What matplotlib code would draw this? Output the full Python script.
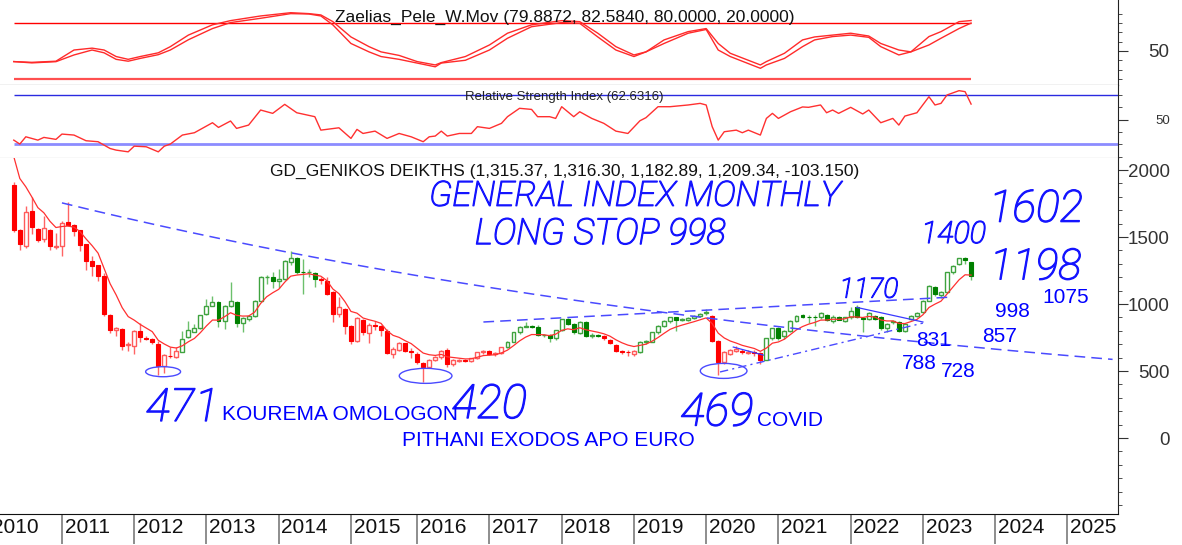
import numpy as np
import pandas as pd
import matplotlib
matplotlib.use('Agg')
import matplotlib.pyplot as plt
import matplotlib.patheffects as pe
from matplotlib.patches import Rectangle, Ellipse
from matplotlib.transforms import blended_transform_factory

# monthly bars, May 2010 - Sep 2023 (no bar for July 2015, market closed)
months = pd.period_range('2010-05', '2023-09', freq='M')
months = months[months != pd.Period('2015-07', freq='M')]

opens = [1888, 1555, 1430, 1696, 1560, 1485, 1555, 1425,
         1430, 1610, 1590, 1550, 1445, 1320, 1290, 1211, 918, 808, 813, 695,
         689, 801, 750, 739, 701, 535, 612, 602, 644, 751, 793, 818,
         925, 987, 1012, 876, 982, 1017, 858, 888, 908, 1025, 1199, 1204,
         1174, 1187, 1315, 1343, 1241, 1236, 1229, 1187, 1174, 1092, 925, 963,
         833, 726, 883, 783, 843, 833, 801, 627, 659, 706, 652,
         627, 557, 527, 584, 602, 657, 552, 577, 580, 577, 594, 639,
         652, 627, 632, 676, 719, 788, 831, 838, 831, 768, 768, 743,
         808, 888, 850, 783, 868, 765, 770, 763, 733, 694, 648, 644,
         627, 639, 714, 719, 788, 833, 875, 900, 883, 880, 893, 908,
         930, 913, 726, 569, 630, 650, 650, 636, 640, 634, 584, 744,
         818, 758, 801, 876, 918, 905, 903, 900, 918, 871, 900, 876,
         900, 975, 895, 888, 913, 900, 818, 863, 863, 801, 890, 908,
         943, 1025, 1129, 1067, 1087, 1236, 1298, 1340, 1315.37]
highs = [1913, 1560, 1734, 1796, 1565, 1654, 1560, 1530,
         1617, 1759, 1595, 1555, 1450, 1360, 1295, 1231, 925, 826, 820, 714,
         805, 856, 760, 745, 726, 625, 676, 680, 801, 875, 850, 920,
         1037, 1057, 1020, 990, 1167, 1025, 900, 920, 1030, 1210, 1215, 1236,
         1260, 1330, 1393, 1350, 1336, 1260, 1240, 1205, 1205, 1100, 1050, 970,
         840, 900, 890, 860, 870, 845, 815, 680, 715, 710, 670,
         640, 565, 590, 610, 655, 670, 590, 590, 592, 600, 645, 660,
         660, 645, 680, 725, 795, 835, 863, 845, 840, 780, 775, 810,
         890, 895, 860, 875, 875, 785, 780, 770, 740, 700, 660, 655,
         660, 725, 735, 795, 840, 880, 905, 905, 895, 900, 915, 930,
         962, 920, 730, 650, 665, 690, 665, 660, 655, 640, 750, 820,
         825, 805, 880, 920, 925, 915, 915, 940, 925, 915, 910, 905,
         975, 990, 905, 940, 920, 910, 860, 880, 870, 860, 920, 940,
         1030, 1140, 1135, 1095, 1240, 1290, 1345, 1352, 1316.30]
lows = [1535, 1405, 1415, 1522, 1460, 1465, 1405, 1410,
        1361, 1585, 1510, 1398, 1254, 1211, 1174, 913, 783, 764, 657, 652,
        627, 719, 730, 702, 471, 485, 600, 595, 640, 745, 790, 815,
        920, 982, 826, 813, 975, 826, 793, 870, 900, 1020, 1150, 1117,
        1120, 1180, 1290, 1225, 1075, 1200, 1125, 1150, 1070, 863, 900, 776,
        700, 720, 770, 710, 805, 760, 630, 600, 650, 645, 600,
        555, 420, 520, 575, 590, 527, 540, 565, 566, 570, 590, 630,
        620, 615, 628, 670, 715, 780, 825, 820, 760, 755, 713, 735,
        800, 840, 780, 775, 755, 750, 755, 730, 700, 640, 630, 615,
        615, 635, 700, 715, 780, 825, 860, 800, 870, 870, 885, 900,
        915, 720, 469, 555, 620, 640, 630, 625, 615, 555, 580, 735,
        730, 740, 790, 865, 895, 860, 833, 890, 875, 860, 880, 865,
        890, 895, 793, 880, 880, 810, 795, 850, 795, 790, 880, 900,
        935, 1020, 1060, 1045, 1080, 1225, 1290, 1300, 1182.89]
closes = [1555, 1448, 1689, 1572, 1480, 1565, 1430, 1430,
          1602, 1592, 1547, 1443, 1323, 1286, 1211, 925, 808, 818, 689, 705,
          801, 751, 739, 714, 535, 619, 609, 652, 739, 808, 818, 918,
          987, 1012, 876, 982, 1025, 858, 893, 913, 1025, 1199, 1204, 1174,
          1187, 1323, 1343, 1241, 1236, 1240, 1187, 1183, 1075, 925, 975, 838,
          726, 893, 788, 843, 838, 808, 634, 664, 706, 652, 640,
          565, 527, 584, 602, 647, 552, 584, 580, 575, 594, 639, 652,
          627, 632, 676, 719, 788, 831, 838, 831, 768, 770, 743, 808,
          888, 850, 788, 868, 763, 770, 763, 743, 709, 651, 644, 641,
          651, 719, 726, 788, 833, 875, 900, 883, 885, 893, 908, 925,
          938, 726, 569, 639, 656, 663, 640, 644, 634, 584, 744, 818,
          744, 801, 876, 913, 905, 903, 900, 933, 883, 905, 883, 900,
          950, 900, 888, 933, 888, 818, 850, 875, 801, 850, 913, 933,
          1025, 1137, 1075, 1087, 1236, 1286, 1340, 1331, 1209.34]

# bar ranges (by bar number) painted green, the rest are red
uptrend_spans = [(28, 50), (82, 97), (104, 115), (125, 159)]

# red moving average
ma_start = 2100
ma_alpha = 0.25

# Zaelias_Pele_W.Mov, read every few bars
osc_idx = [0, 3, 7, 10, 13, 15, 17, 19, 21, 24, 26, 29, 33, 36, 41, 46, 49, 51, 53,
           56, 59, 61, 64, 67, 70, 71, 75, 79, 82, 86, 91, 94, 97, 100, 103, 105,
           108, 112, 115, 117, 119, 124, 125, 128, 131, 133, 136, 139, 142, 144,
           147, 149, 152, 154, 157, 159]
osc_fast = [38.6, 37.8, 39.0, 51.0, 53.0, 51.0, 44.0, 41.0, 44.0, 48.0, 54.6, 67.0,
            78.0, 82.5, 87.5, 91.0, 90.0, 88.6, 81.4, 65.0, 54.6, 49.0, 45.2, 38.6,
            35.0, 37.5, 44.0, 56.4, 69.0, 78.0, 82.5, 81.4, 69.0, 54.6, 45.7, 49.0,
            61.8, 70.7, 74.0, 58.0, 47.5, 35.0, 38.6, 47.5, 61.8, 65.0, 67.0, 69.0,
            66.0, 58.0, 51.0, 49.0, 65.4, 70.7, 81.4, 82.584]
osc_slow = [38.6, 37.2, 38.5, 45.7, 51.0, 48.0, 41.0, 39.0, 42.0, 46.0, 51.0, 62.0,
            74.0, 80.4, 85.0, 90.0, 89.6, 87.5, 77.9, 58.0, 49.0, 44.0, 41.0, 37.0,
            33.0, 37.0, 40.0, 51.0, 63.6, 76.0, 80.4, 79.6, 65.0, 51.0, 44.0, 49.0,
            58.0, 69.0, 73.0, 51.0, 44.0, 31.4, 35.0, 42.0, 54.6, 61.8, 65.4, 67.0,
            64.6, 54.6, 45.7, 49.0, 56.4, 63.6, 74.0, 79.887]

# Relative Strength Index, read every few bars
rsi_idx = [0, 1, 2, 4, 5, 7, 8, 10, 12, 14, 16, 17, 19, 20, 22, 24, 25, 26, 28, 30,
           33, 34, 36, 37, 39, 41, 43, 45, 47, 50, 51, 54, 56, 57, 58, 60, 62, 64,
           66, 68, 69, 70, 71, 72, 74, 76, 77, 79, 81, 82, 84, 86, 87, 89, 90, 91,
           93, 94, 96, 98, 100, 102, 104, 105, 107, 109, 112, 114, 115, 116, 117,
           118, 120, 121, 122, 124, 125, 126, 127, 129, 131, 132, 134, 135, 136,
           137, 139, 141, 142, 144, 146, 147, 148, 150, 152, 153, 154, 155, 157,
           158, 159]
rsi_vals = [33.4, 30.2, 36.1, 33.4, 35.6, 34.0, 38.3, 37.5, 32.9, 32.1, 26.6, 25.3,
            23.9, 28.5, 28.0, 23.9, 28.5, 30.2, 37.5, 39.4, 47.5, 43.7, 48.9, 42.9,
            45.6, 57.8, 55.1, 62.4, 55.6, 52.4, 41.5, 43.4, 34.8, 42.1, 38.8, 40.7,
            34.8, 38.8, 36.1, 32.1, 36.1, 36.7, 40.7, 36.7, 38.8, 38.8, 44.3, 42.9,
            47.0, 52.4, 59.2, 58.3, 52.4, 52.4, 51.0, 60.5, 52.4, 56.4, 51.0, 47.0,
            40.7, 38.8, 49.1, 51.6, 60.5, 60.5, 61.9, 63.2, 61.9, 44.3, 33.4, 40.2,
            41.5, 39.4, 41.5, 37.5, 51.0, 55.1, 51.0, 56.4, 60.3, 60.0, 61.9, 55.6,
            57.8, 55.1, 60.0, 54.6, 57.8, 47.5, 51.0, 45.6, 52.9, 55.6, 68.6, 61.9,
            63.2, 70.0, 73.5, 72.7, 62.6316]

# hand drawn lines: (bar, value) end points
downtrend = ((8, 1755), (182.5, 587))          # drawn on log scale
channel_top = ((78, 866), (155.8, 1052))
wedge_top = ((140, 975), (151, 866))
base_2020 = ((119.5, 679), (124.5, 619))
covid_support = ((117.3, 493), (151, 858))
# circled lows: (bar, value, width in bars, height)
lows_circled = [(24.8, 495, 5.8, 75), (68.4, 464, 8.75, 112), (117.9, 501, 7.75, 112)]

W, H = 1182, 545
XL = (-2.29, 183.4)
ARIAL = 'Liberation Sans'
HAND_COLOR = '#1414ff'
HAND = dict(family='Roboto', style='italic', weight='light', color=HAND_COLOR,
            path_effects=[pe.withStroke(linewidth=0.9, foreground=HAND_COLOR)])
BLUE = '#0000ff'


def year_slot(year):
    p = pd.Period(f'{year}-01', freq='M')
    if p < months[0]:
        return -(months[0] - p).n
    if p > months[-1]:
        return len(months) - 1 + (p - months[-1]).n
    return months.get_loc(p)


def style_axis(ax, bottom_color):
    for s in ['left', 'top']:
        ax.spines[s].set_visible(False)
    ax.spines['right'].set_color('#222222')
    ax.spines['bottom'].set_color(bottom_color)
    ax.yaxis.tick_right()
    ax.tick_params(axis='y', which='major', length=7.2, pad=30, colors='#333333',
                   labelsize=13.5)
    ax.tick_params(axis='y', which='minor', length=2.8, colors='#333333')
    ax.tick_params(axis='x', which='both', bottom=False, labelbottom=False)


fig = plt.figure(figsize=(W / 100, H / 100), dpi=100)
ax_top = fig.add_axes([0, 1 - 85 / H, 1118 / W, 85 / H])
ax_rsi = fig.add_axes([0, 1 - 158 / H, 1118 / W, 73 / H])
ax = fig.add_axes([0, 31 / H, 1118 / W, 356 / H])

# ---- oscillator panel
style_axis(ax_top, '#111111')
ax_top.set_ylim(13.5, 104.6)
ax_top.set_yticks([50])
ax_top.set_yticks([20, 30, 40, 60, 70, 80, 90], minor=True)
ax_top.hlines(80, 0, len(closes) - 1, color='#ff0000', lw=1)
ax_top.hlines(20, 0, len(closes) - 1, color='#ff5050', lw=1.6)
ax_top.plot(osc_idx, osc_fast, color='#ff2a2a', lw=1)
ax_top.plot(osc_idx, osc_slow, color='#ff2a2a', lw=1)
ax_top.text(0.505, 0.79, 'Zaelias_Pele_W.Mov (79.8872, 82.5840, 80.0000, 20.0000)',
            transform=ax_top.transAxes, ha='center', va='center', fontsize=12.5,
            family=ARIAL, color='#111111')
ax_top.set_xlim(*XL)

# ---- RSI panel
style_axis(ax_rsi, '#8a8a8a')
ax_rsi.set_ylim(18.9, 78.1)
ax_rsi.set_yticks([50])
ax_rsi.set_yticks([20, 30, 40, 60, 70], minor=True)
ax_rsi.tick_params(axis='y', which='major', labelsize=9.5)
ax_rsi.hlines(70, 0, XL[1], color='#2a2ae0', lw=1)
ax_rsi.hlines(30, 0, XL[1], color='#8c8cff', lw=2)
ax_rsi.plot(rsi_idx, rsi_vals, color='#ff3030', lw=1)
ax_rsi.text(0.505, 0.84, 'Relative Strength Index (62.6316)', transform=ax_rsi.transAxes,
            ha='center', va='center', fontsize=9.5, family=ARIAL, color='#222222')
ax_rsi.set_xlim(*XL)

# ---- price panel
style_axis(ax, '#111111')
ax.set_ylim(-567, 2090)
ax.set_yticks([0, 500, 1000, 1500, 2000])
ax.set_yticks(range(-500, 2100, 100), minor=True)

for i in range(len(closes)):
    o, h, l, c = opens[i], highs[i], lows[i], closes[i]
    up = any(a <= i <= b for a, b in uptrend_spans)
    if up:
        solid, edge, wick = '#008000', '#3fa33f', '#6cc06c'
    else:
        solid, edge, wick = '#ff0000', '#ff5a5a', '#ff6464'
    ax.vlines(i, l, h, color=wick, lw=1, zorder=2)
    lo, hi = min(o, c), max(o, c)
    if c < o:
        ax.add_patch(Rectangle((i - 0.33, lo), 0.66, max(hi - lo, 3), facecolor=solid,
                               edgecolor=solid, lw=0.8, zorder=3))
    else:
        ax.add_patch(Rectangle((i - 0.33, lo), 0.66, max(hi - lo, 3), facecolor='white',
                               edgecolor=edge, lw=1, zorder=3))

ma = [ma_start]
for c in closes[1:]:
    ma.append(ma[-1] + ma_alpha * (c - ma[-1]))
ax.plot(range(len(closes)), ma, color='#ff3030', lw=0.9, zorder=4)

# trend lines
(x0, v0), (x1, v1) = downtrend
xs = np.linspace(x0, x1, 200)
ax.plot(xs, v0 * (v1 / v0) ** ((xs - x0) / (x1 - x0)), color='#4a4aff', lw=1.1,
        dashes=(7, 4), zorder=5)
(a, va), (b, vb) = channel_top
ax.plot([a, b], [va, vb], color='#4a4aff', lw=1.1, dashes=(7, 4), zorder=5)
for (a, va), (b, vb) in [wedge_top, base_2020]:
    ax.plot([a, b], [va, vb], color='#3a3aff', lw=0.9, zorder=5)
(a, va), (b, vb) = covid_support
ax.plot([a, b], [va, vb], color='#4a4aff', lw=1, dashes=(6, 3, 1.5, 3), zorder=5)
for cx, cy, w, h in lows_circled:
    ax.add_patch(Ellipse((cx, cy), w, h, fill=False, edgecolor='#4a4aff', lw=1, zorder=5))

ax.text(0.505, 0.961, 'GD_GENIKOS DEIKTHS (1,315.37, 1,316.30, 1,182.89, 1,209.34, -103.150)',
        transform=ax.transAxes, ha='center', va='center', fontsize=12.5, family=ARIAL,
        color='#111111')

# hand written notes
ax.text(103.2, 1806, 'GENERAL INDEX MONTHLY', fontsize=25, ha='center', va='center', **HAND)
ax.text(97.4, 1522, 'LONG STOP 998', fontsize=26, ha='center', va='center', **HAND)
ax.text(169.8, 1706, '1602', fontsize=32, ha='center', va='center', **HAND)
ax.text(156.1, 1519, '1400', fontsize=22, ha='center', va='center', **HAND)
ax.text(169.7, 1270, '1198', fontsize=31, ha='center', va='center', **HAND)
ax.text(142.0, 1104, '1170', fontsize=20, ha='center', va='center', **HAND)
ax.text(28.0, 224, '471', fontsize=33, ha='center', va='center', **HAND)
ax.text(79.0, 246, '420', fontsize=34, ha='center', va='center', **HAND)
ax.text(116.8, 190, '469', fontsize=33, ha='center', va='center', **HAND)

notes = [(34.6, 172, 'KOUREMA OMOLOGON'), (64.5, -15, 'PITHANI EXODOS APO EURO'),
         (123.4, 134, 'COVID'), (170.8, 1048, '1075'), (163.0, 944, '998'),
         (160.8, 757, '857'), (149.9, 731, '831'), (147.5, 556, '788'), (153.9, 500, '728')]
for x, y, s in notes:
    ax.text(x, y, s, fontsize=15, family=ARIAL, color=BLUE, ha='left', va='center', zorder=6)

# year dividers under the price panel
years = list(range(2010, 2026))
yslots = [year_slot(y) for y in years]
ax.set_xticks(yslots)
ax.tick_params(axis='x', which='major', bottom=True, length=21.6, width=1.2,
               color='#7a7a7a', labelbottom=False)
ax.set_xlim(*XL)
trans = blended_transform_factory(ax.transData, ax.transAxes)
for y, s in zip(years, yslots):
    ax.text(s + 0.45, -0.037, str(y), transform=trans, fontsize=15, family=ARIAL,
            ha='left', va='center', color='#111111', clip_on=False)

for a in (ax_top, ax_rsi, ax):
    for lab in a.get_yticklabels():
        lab.set_horizontalalignment('right')
        lab.set_family(ARIAL)

fig.savefig('out.png', dpi=100, facecolor='white')
